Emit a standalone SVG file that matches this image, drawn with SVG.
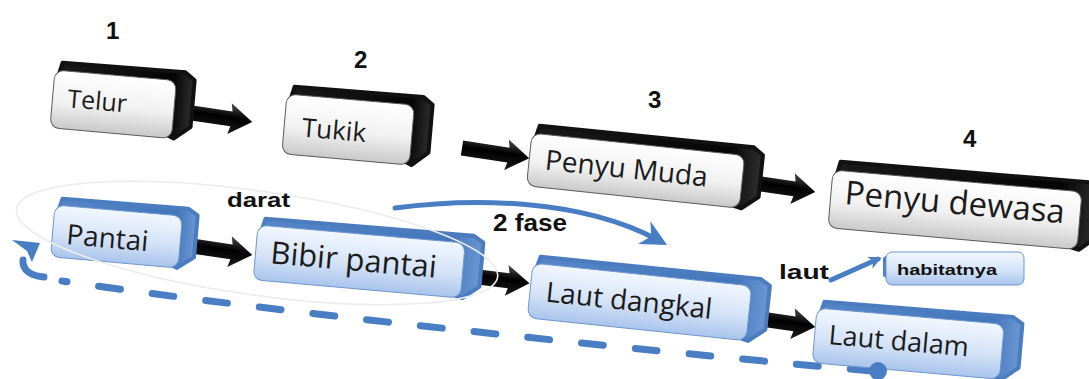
<svg xmlns="http://www.w3.org/2000/svg" width="1089" height="379" viewBox="0 0 1089 379">
  <defs>
    <linearGradient id="grayFace" x1="0" y1="0" x2="0" y2="1">
      <stop offset="0" stop-color="#ffffff"/>
      <stop offset="0.55" stop-color="#f1f1f1"/>
      <stop offset="1" stop-color="#c9c9c9"/>
    </linearGradient>
    <linearGradient id="blueFace" x1="0" y1="0" x2="0" y2="1">
      <stop offset="0" stop-color="#f2f7fe"/>
      <stop offset="0.55" stop-color="#d5e3f7"/>
      <stop offset="1" stop-color="#a9c4ec"/>
    </linearGradient>
    <linearGradient id="darkSide" x1="0" y1="0" x2="1" y2="0">
      <stop offset="0" stop-color="#1a1a1a"/>
      <stop offset="0.85" stop-color="#050505"/>
      <stop offset="1" stop-color="#2e2e2e"/>
    </linearGradient>
    <linearGradient id="blueSide" x1="0" y1="0" x2="1" y2="0">
      <stop offset="0" stop-color="#5686c8"/>
      <stop offset="0.85" stop-color="#4476bc"/>
      <stop offset="1" stop-color="#6b97d3"/>
    </linearGradient>
    <linearGradient id="arrowFill" gradientUnits="userSpaceOnUse" x1="0" y1="-15" x2="0" y2="15">
      <stop offset="0" stop-color="#4a4a4a"/>
      <stop offset="0.45" stop-color="#000000"/>
      <stop offset="1" stop-color="#1c1c1c"/>
    </linearGradient>
    <!-- block arrow pointing along +x, 68px long -->
    <path id="blockArrow" d="M0,-7.5 L47,-7.5 L45,-15.5 L68,0 L45,15.5 L47,7.5 L0,7.5 Z" fill="url(#arrowFill)"/>
    <marker id="blueHead" viewBox="0 0 10 10" refX="6" refY="5" markerWidth="26" markerHeight="26" markerUnits="userSpaceOnUse" orient="auto">
      <path d="M0,0 L10,5 L0,10 L3,5 Z" fill="#4a7ec4"/>
    </marker>
    <marker id="smallHead" viewBox="0 0 10 10" refX="7" refY="5" markerWidth="13" markerHeight="13" markerUnits="userSpaceOnUse" orient="auto">
      <path d="M0,0 L10,5 L0,10 L3,5 Z" fill="#4a7ec4"/>
    </marker>
  </defs>
  <style>
    .dark { fill: url(#darkSide); stroke: #111; stroke-width: 4; stroke-linejoin: round; }
    .blueX { fill: url(#blueSide); stroke: #4b7cc0; stroke-width: 4; stroke-linejoin: round; }
    .grayF { fill: url(#grayFace); stroke: #5a5a5a; stroke-width: 1; }
    .blueF { fill: url(#blueFace); stroke: #6e97cf; stroke-width: 1; }
    .lbl { font-family: "Open Sans", "Noto Sans", sans-serif; fill: #1b1b1b; }
    .bold { font-family: "Liberation Sans", Arial, sans-serif; font-weight: bold; fill: #111; }
    .flow { fill: none; stroke: #4a7ec4; stroke-width: 5; stroke-linecap: round; }
  </style>

  <rect width="1089" height="379" fill="#ffffff"/>

  <!-- connectors -->
  <g id="connectors">
    <use href="#blockArrow" transform="translate(185,112) rotate(8.4)"/>
    <use href="#blockArrow" transform="translate(462,148) rotate(8.7)"/>
    <use href="#blockArrow" transform="translate(748,182) rotate(8.5)"/>
    <use href="#blockArrow" transform="translate(185,245) rotate(8.4)"/>
    <use href="#blockArrow" transform="translate(462,275) rotate(7)"/>
    <use href="#blockArrow" transform="translate(748,317) rotate(8.5)"/>
    <!-- land-to-sea phase arc -->
    <path class="flow" d="M395,208 C470,198 580,198 658,240" marker-end="url(#blueHead)"/>
    <!-- laut to habitat -->
    <path class="flow" d="M831,280 L878,259" stroke-width="3.5" marker-end="url(#smallHead)"/>
    <!-- return loop, dashed -->
    <path d="M872,371 C700,356 300,316 62,281" fill="none" stroke="#4a7ec4" stroke-width="7" stroke-linecap="round" stroke-dasharray="22 32"/>
    <path d="M44,277 C32,276 22,271 23,260" fill="none" stroke="#4a7ec4" stroke-width="7" stroke-linecap="round"/>
    <polygon points="12,240 40,243 32,262 27,251" fill="#4a7ec4"/>
  </g>

  <!-- stage nodes (top row) -->
  <g id="node-telur" transform="translate(55,70) rotate(5)">
    <path class="dark" d="M4,5 L7,-8 L130,-9 L140,-2 L140,45 L124,58 Z"/>
    <rect class="grayF" x="0" y="0" width="122" height="58" rx="9"/>
    <text class="lbl" x="15" y="36" font-size="25">Telur</text>
  </g>
  <g id="node-tukik" transform="translate(287,94) rotate(5)">
    <path class="dark" d="M4,5 L7,-8 L136,-9 L146,-2 L146,46 L130,60 Z"/>
    <rect class="grayF" x="0" y="0" width="128" height="60" rx="9"/>
    <text class="lbl" x="18" y="41" font-size="26">Tukik</text>
  </g>
  <g id="node-penyu-muda" transform="translate(532,133) rotate(6)">
    <path class="dark" d="M4,5 L7,-8 L222,-9 L232,-2 L232,40 L216,53 Z"/>
    <rect class="grayF" x="0" y="0" width="214" height="53" rx="9"/>
    <text class="lbl" x="16" y="35" font-size="28">Penyu Muda</text>
  </g>
  <g id="node-penyu-dewasa" transform="translate(833,170) rotate(5)">
    <path class="dark" d="M4,5 L7,-9 L258,-10 L268,-2 L268,44 L252,58 Z"/>
    <rect class="grayF" x="0" y="0" width="250" height="58" rx="9"/>
    <text class="lbl" x="14" y="33" font-size="33">Penyu dewasa</text>
  </g>

  <!-- habitat nodes (bottom row) -->
  <g id="node-pantai" transform="translate(55,205) rotate(5)">
    <path class="blueX" d="M4,5 L7,-7 L133,-8 L143,-2 L143,40 L127,52 Z"/>
    <rect class="blueF" x="0" y="0" width="128" height="52" rx="9"/>
    <text class="lbl" x="14" y="38" font-size="28">Pantai</text>
  </g>
  <g id="node-bibir-pantai" transform="translate(258,225) rotate(5)">
    <path class="blueX" d="M4,5 L7,-7 L216,-8 L226,-2 L226,42 L210,55 Z"/>
    <rect class="blueF" x="0" y="0" width="208" height="55" rx="9"/>
    <text class="lbl" x="15" y="37" font-size="31">Bibir pantai</text>
  </g>
  <g id="node-laut-dangkal" transform="translate(533,263) rotate(6)">
    <path class="blueX" d="M4,5 L7,-7 L228,-8 L238,-2 L238,42 L222,55 Z"/>
    <rect class="blueF" x="0" y="0" width="220" height="55" rx="9"/>
    <text class="lbl" x="16" y="37" font-size="28">Laut dangkal</text>
  </g>
  <g id="node-laut-dalam" transform="translate(817,308) rotate(5)">
    <path class="blueX" d="M4,5 L7,-7 L196,-8 L206,-2 L206,42 L190,55 Z"/>
    <rect class="blueF" x="0" y="0" width="188" height="55" rx="9"/>
    <text class="lbl" x="14" y="35" font-size="27">Laut dalam</text>
  </g>
  <g id="node-habitatnya">
    <path d="M887,255 L883,258 L883,276 L889,280 Z" fill="#4f80c4"/>
    <rect class="blueF" x="886" y="252" width="138" height="33" rx="6"/>
    <text class="bold" x="897" y="275" font-size="15" textLength="100" lengthAdjust="spacingAndGlyphs">habitatnya</text>
  </g>

  <!-- end dot of the return loop -->
  <circle cx="878" cy="371" r="9" fill="#4a7ec4"/>

  <!-- faint outline grouping the land stages -->
  <ellipse cx="257" cy="243" rx="243" ry="52" transform="rotate(8 257 243)" fill="none" stroke="#ececec" stroke-width="1.6"/>

  <!-- stage numbers and labels -->
  <g id="labels">
    <text class="bold" x="106" y="39" font-size="24">1</text>
    <text class="bold" x="354" y="68" font-size="24">2</text>
    <text class="bold" x="648" y="108" font-size="24">3</text>
    <text class="bold" x="963" y="147" font-size="24">4</text>
    <text class="bold" x="227" y="207" font-size="21" textLength="63" lengthAdjust="spacingAndGlyphs">darat</text>
    <text class="bold" x="493" y="231" font-size="23" textLength="74" lengthAdjust="spacingAndGlyphs">2 fase</text>
    <text class="bold" x="779" y="279" font-size="21" textLength="50" lengthAdjust="spacingAndGlyphs">laut</text>
  </g>
</svg>
